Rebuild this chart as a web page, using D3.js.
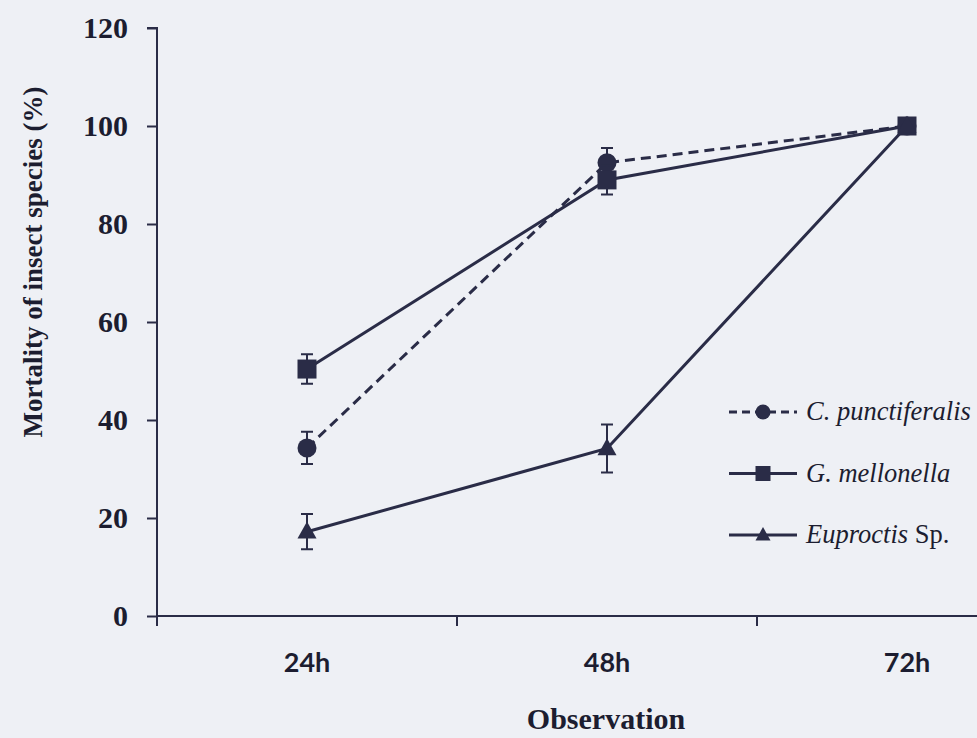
<!DOCTYPE html>
<html>
<head>
<meta charset="utf-8">
<script src="https://cdn.jsdelivr.net/npm/d3@7"></script>
<style>
  html, body { margin: 0; padding: 0; background: #eef0f5; overflow: hidden; }
  svg { display: block; }
</style>
</head>
<body>
<div id="chart"></div>
<script>
(function(d3) {
  'use strict';

  // values
  var categories = ['24h', '48h', '72h'];
  var yTicks = [0, 20, 40, 60, 80, 100, 120];

  var punctiferalis = [34.3, 92.5, 100];
  var punctiferalisErr = [3.3, 3, 0];
  var mellonella = [50.4, 89, 100];
  var mellonellaErr = [3, 3, 0];
  var euproctis = [17.2, 34.2, 100];
  var euproctisErr = [3.6, 4.9, 0];

  var width = 977;
  var height = 738;
  var ink = '#2a2c47';

  var series = [
    { name: 'C. punctiferalis', values: punctiferalis, err: punctiferalisErr, dash: '10,6', shape: 'circle' },
    { name: 'G. mellonella', values: mellonella, err: mellonellaErr, dash: null, shape: 'square' },
    { name: 'Euproctis', suffix: ' Sp.', values: euproctis, err: euproctisErr, dash: null, shape: 'triangle' }
  ];

  var x = d3.scaleBand().domain(categories).range([157, 1057]);
  var y = d3.scaleLinear().domain([0, 120]).range([616, 28]);

  var svg = d3.select('#chart')
    .append('svg')
    .attr('width', width)
    .attr('height', height);

  svg.append('rect')
    .attr('width', width)
    .attr('height', height)
    .attr('fill', '#eef0f5');

  // y axis
  var yAxis = svg.append('g')
    .attr('transform', 'translate(157,0)')
    .call(d3.axisLeft(y).tickValues(yTicks).tickSize(10).tickPadding(19));
  yAxis.select('.domain').attr('stroke', ink).attr('stroke-width', 2)
    .attr('d', 'M-10,' + y(120) + 'H0V' + (y(0) + 10));
  yAxis.selectAll('.tick line').attr('stroke', ink).attr('stroke-width', 2);
  yAxis.selectAll('.tick text')
    .attr('fill', '#1c1d30')
    .style('font-family', '"Liberation Serif", "Times New Roman", serif')
    .style('font-weight', 'bold')
    .style('font-size', '30px');

  // x axis: labels at the band centres, tick marks on the band edges
  var xAxis = svg.append('g')
    .attr('transform', 'translate(0,' + y(0) + ')')
    .call(d3.axisBottom(x).tickSize(0).tickPadding(37));
  xAxis.select('.domain').remove();
  xAxis.selectAll('.tick text')
    .attr('fill', '#1c1d30')
    .style('font-family', 'Lato, "Open Sans", sans-serif')
    .style('font-weight', 'bold')
    .style('font-size', '27px');

  svg.append('line')
    .attr('x1', x.range()[0]).attr('x2', x.range()[1])
    .attr('y1', y(0)).attr('y2', y(0))
    .attr('stroke', ink).attr('stroke-width', 2);

  svg.selectAll('.xtick')
    .data(categories)
    .enter().append('line')
      .attr('class', 'xtick')
      .attr('x1', function(d) { return x(d); })
      .attr('x2', function(d) { return x(d); })
      .attr('y1', y(0))
      .attr('y2', y(0) + 10)
      .attr('stroke', ink).attr('stroke-width', 2);

  // axis titles
  svg.append('text')
    .attr('transform', 'translate(42,262) rotate(-90)')
    .attr('text-anchor', 'middle')
    .attr('fill', '#1c1d30')
    .style('font-family', '"Liberation Serif", "Times New Roman", serif')
    .style('font-weight', 'bold')
    .style('font-size', '27px')
    .text('Mortality of insect species  (%)');

  svg.append('text')
    .attr('x', 606)
    .attr('y', 729)
    .attr('text-anchor', 'middle')
    .attr('fill', '#1c1d30')
    .style('font-family', '"Liberation Serif", "Times New Roman", serif')
    .style('font-weight', 'bold')
    .style('font-size', '30px')
    .text('Observation');

  var cx = function(i) { return x(categories[i]) + x.bandwidth() / 2; };

  var line = d3.line()
    .x(function(d, i) { return cx(i); })
    .y(function(d) { return y(d); });

  var drawMarker = function(g, shape, px, py, size) {
    if (shape === 'circle') {
      g.append('circle').attr('cx', px).attr('cy', py).attr('r', size * 0.5).attr('fill', ink);
    } else if (shape === 'square') {
      g.append('rect').attr('x', px - size / 2).attr('y', py - size / 2)
        .attr('width', size).attr('height', size).attr('fill', ink);
    } else {
      var h = size * 0.9;
      g.append('path')
        .attr('d', 'M' + px + ',' + (py - h * 0.6) + 'L' + (px + size / 2) + ',' + (py + h * 0.4) +
          'L' + (px - size / 2) + ',' + (py + h * 0.4) + 'Z')
        .attr('fill', ink);
    }
  };

  series.forEach(function(s) {
    var g = svg.append('g');
    g.append('path')
      .attr('d', line(s.values))
      .attr('fill', 'none')
      .attr('stroke', ink)
      .attr('stroke-width', 3)
      .attr('stroke-dasharray', s.dash);

    s.values.forEach(function(v, i) {
      var px = cx(i);
      if (s.err[i] > 0) {
        var top = y(v + s.err[i]);
        var bot = y(v - s.err[i]);
        g.append('path')
          .attr('d', 'M' + (px - 6) + ',' + top + 'H' + (px + 6) + 'M' + px + ',' + top + 'V' + bot +
            'M' + (px - 6) + ',' + bot + 'H' + (px + 6))
          .attr('fill', 'none')
          .attr('stroke', ink)
          .attr('stroke-width', 2);
      }
      drawMarker(g, s.shape, px, y(v), 19);
    });
  });

  // legend
  var legend = svg.append('g');
  series.forEach(function(s, i) {
    var ly = 412 + i * 61.5;
    legend.append('line')
      .attr('x1', 729).attr('x2', 797)
      .attr('y1', ly).attr('y2', ly)
      .attr('stroke', ink).attr('stroke-width', 3)
      .attr('stroke-dasharray', s.dash ? '8,5' : null);
    drawMarker(legend, s.shape, 763, ly, 15);
    var t = legend.append('text')
      .attr('x', 806)
      .attr('y', ly + 8)
      .attr('fill', '#1c1d30')
      .style('font-family', '"Liberation Serif", "Times New Roman", serif')
      .style('font-size', '26.5px');
    t.append('tspan').style('font-style', 'italic').text(s.name);
    if (s.suffix) t.append('tspan').text(s.suffix);
  });
})(window.d3);
</script>
</body>
</html>
